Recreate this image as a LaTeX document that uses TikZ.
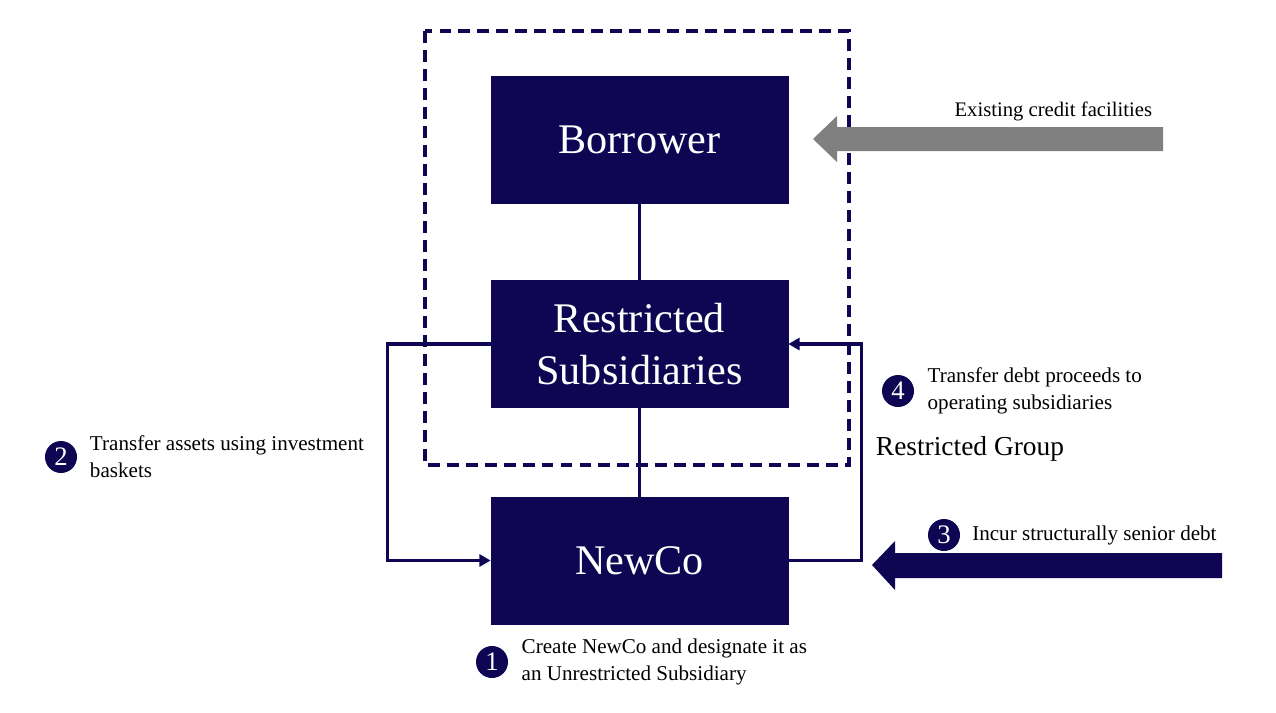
\documentclass[tikz,border=0pt]{standalone}
\usepackage{fontspec}
\setmainfont{Liberation Serif}
\usetikzlibrary{arrows.meta}
\definecolor{navy}{HTML}{0E0652}
\definecolor{arrowgray}{HTML}{808080}

\begin{document}
\begin{tikzpicture}[x=0.025cm, y=-0.025cm,
  entity/.style={fill=navy, draw=navy, minimum width=7.425cm, minimum height=3.175cm,
    text=white, align=center, font=\fontsize{30}{37}\selectfont},
  link/.style={draw=navy, line width=2.4pt},
  flow/.style={link, -{Triangle[length=8pt, width=8.5pt]}},
  stepnum/.style={circle, fill=navy, text=white, minimum size=0.8cm, inner sep=0pt,
    font=\fontsize{19}{19}\selectfont},
  note/.style={anchor=west, align=left, font=\fontsize{15}{19.2}\selectfont}]
\useasboundingbox (0,0) rectangle (1276,712);

% restricted group
\draw [navy, line width=2.2pt, dash pattern=on 8.5pt off 5pt] (425,31) rectangle (849,465);
\node [anchor=west, font=\fontsize{19.5}{22}\selectfont] (group) at (871,449) {Restricted Group};

% entities
\node [entity] (borrower) at (639.5,139.5) {Borrower};
\node [entity] (restricted) at (639.5,344) {Restricted\\Subsidiaries};
\node [entity] (newco) at (639.5,560.5) {NewCo};
\draw [link] (borrower) -- (restricted);
\draw [link] (restricted) -- (newco);

% transfers
\draw [flow] (restricted.west) -- ++(-103,0) |- (newco.west);
\draw [flow] (newco.east) -- ++(73,0) |- (restricted.east);

% incoming debt
\fill [arrowgray] (1163,127) -- (837,127) -- (837,116) -- (813,139) -- (837,162) -- (837,151) -- (1163,151) -- cycle;
\node [note, anchor=east, font=\fontsize{14.7}{19.2}\selectfont] (existing) at (1157,111) {Existing credit facilities};
\fill [navy] (1222,553) -- (895,553) -- (895,541) -- (872,565) -- (895,590) -- (895,578) -- (1222,578) -- cycle;

% steps
\node [stepnum] (s1) at (492,662) {1};
\node [note] at (s1.east) [xshift=6pt] {Create NewCo and designate it as\\an Unrestricted Subsidiary};
\node [stepnum] (s2) at (61,457) {2};
\node [note] at (s2.east) [xshift=5.5pt] {Transfer assets using investment\\baskets};
\node [stepnum] (s3) at (944,535) {3};
\node [note] at (s3.east) [xshift=5pt] {Incur structurally senior debt};
\node [stepnum] (s4) at (898,391) {4};
\node [note] at (s4.east) [xshift=6pt] {Transfer debt proceeds to\\operating subsidiaries};
\end{tikzpicture}
\end{document}
